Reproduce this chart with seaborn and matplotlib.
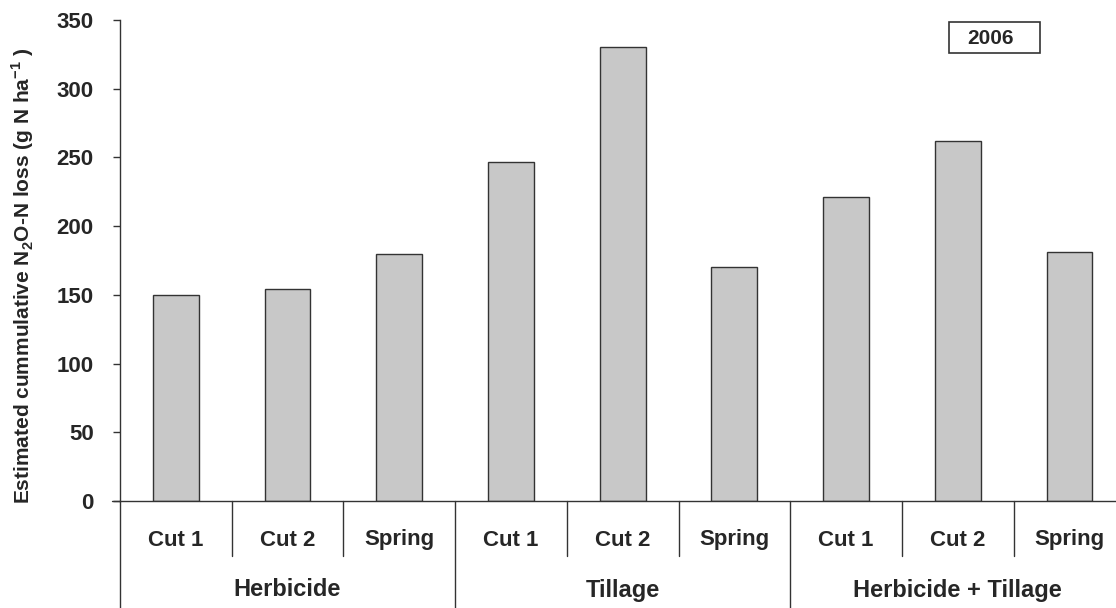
import matplotlib
matplotlib.use("Agg")
import matplotlib.pyplot as plt
import matplotlib.transforms as mtransforms
from matplotlib.patches import Rectangle
import seaborn as sns
import pandas as pd

groups = ["Herbicide", "Tillage", "Herbicide + Tillage"]
subs = ["Cut 1", "Cut 2", "Spring"]
values = [150, 154, 180, 247, 330, 170, 221, 262, 181]
yticks = [0, 50, 100, 150, 200, 250, 300, 350]
year_label = "2006"
ylabel = "Estimated cummulative N$_\\mathbf{2}$O-N loss (g N ha$^{\\mathbf{-1}}$ )"

keys, sublabels = [], []
for g in groups:
    for s in subs:
        keys.append(f"{g}|{s}")
        sublabels.append(s)
df = pd.DataFrame({"key": keys, "value": values})

sns.set_style("white")
plt.rcParams['font.family'] = ['Liberation Sans', 'DejaVu Sans']
plt.rcParams['mathtext.fontset'] = 'custom'
plt.rcParams['mathtext.rm'] = 'Liberation Sans:bold'
plt.rcParams['mathtext.bf'] = 'Liberation Sans:bold'

W, H = 1116, 608
fig = plt.figure(figsize=(W / 100, H / 100), dpi=100)
left, right, top, bottom = 120, 1116, 20, 501
ax = fig.add_axes([left / W, 1 - bottom / H, (right - left) / W, (bottom - top) / H])

sns.barplot(data=df, x="key", y="value", order=keys, color="#c8c8c8",
            edgecolor="#333333", linewidth=1.0, width=0.41, saturation=1, ax=ax)
for p in ax.patches:
    p.set_facecolor("#c8c8c8")

catw = 111.7
ax.set_xlim(-0.5, -0.5 + (right - left) / catw)
ax.set_ylim(0, 350)
ax.set_yticks(yticks)
ax.set_yticklabels([str(v) for v in yticks], fontsize=16, fontweight='bold')
ax.tick_params(axis='y', direction='out', length=5, width=1, color='#333333', pad=14, left=True)
ax.set_xticks(range(len(keys)))
ax.set_xticklabels([""] * len(keys))
ax.tick_params(axis='x', length=0)
ax.set_xlabel("")
ax.set_ylabel(ylabel, fontsize=15, fontweight='bold')
ax.yaxis.set_label_coords(-(left - 36) / (right - left), (bottom - 276) / (bottom - top))

for s in ["top", "right"]:
    ax.spines[s].set_visible(False)
for s in ["left", "bottom"]:
    ax.spines[s].set_color("#333333")
    ax.spines[s].set_linewidth(1)

trans = mtransforms.blended_transform_factory(ax.transData, ax.transAxes)
axh = bottom - top
# extend x-axis line slightly left
ax.plot([-0.5 - 8 / catw, -0.5], [0, 0], transform=trans, color="#333333", lw=1, clip_on=False)
for i in range(len(keys)):
    xsep = i - 0.5
    if i % 3 == 0:
        ax.plot([xsep, xsep], [0, -(H - bottom) / axh], transform=trans, color="#333333", lw=1, clip_on=False)
    else:
        ax.plot([xsep, xsep], [0, -55 / axh], transform=trans, color="#333333", lw=1, clip_on=False)
for i, s in enumerate(sublabels):
    ax.text(i, -(540 - bottom) / axh, s, transform=trans, ha='center', va='center',
            fontsize=16, fontweight='bold')
for gi, g in enumerate(groups):
    ax.text(gi * 3 + 1, -(590 - bottom) / axh, g, transform=trans, ha='center', va='center',
            fontsize=17, fontweight='bold')

fig.add_artist(Rectangle((949 / W, 1 - 53 / H), 91 / W, 31 / H, transform=fig.transFigure,
                         facecolor='white', edgecolor='#333333', lw=1.2))
fig.text(991 / W, 1 - 38 / H, year_label, ha='center', va='center', fontsize=15, fontweight='bold')

fig.savefig("out.png", dpi=100)
